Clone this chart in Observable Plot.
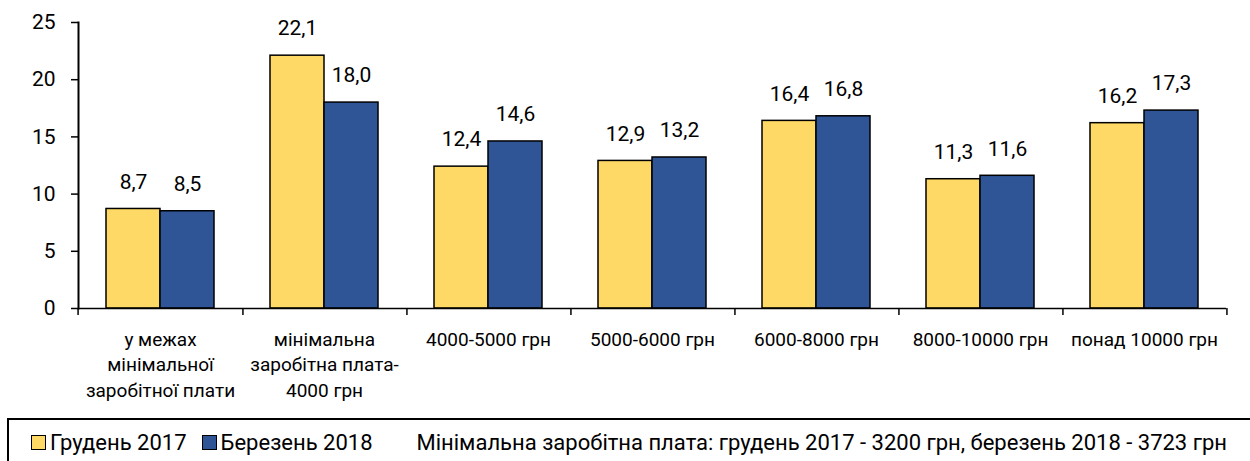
<!DOCTYPE html>
<html>
<head>
<meta charset="utf-8">
<script src="https://cdn.jsdelivr.net/npm/d3@7"></script>
<script src="https://cdn.jsdelivr.net/npm/@observablehq/plot@0.6"></script>
<style>
  html, body { margin: 0; padding: 0; background: #fff; overflow: hidden; width: 1250px; height: 461px; }
  #chart svg { display: block; }
  .legend {
    margin-top: 13px; margin-left: 7px; width: 1300px; height: 60px;
    border-top: 2px solid #000; border-left: 2px solid #000;
    font-family: Roboto, "Noto Sans", sans-serif; font-size: 22px; color: #000;
    display: flex; align-items: center; box-sizing: border-box; padding-left: 22px; padding-bottom: 14px;
  }
  .sw { display: inline-block; width: 13px; height: 13px; border: 1.5px solid #000; margin-right: 4px; }
  .item { display: inline-flex; align-items: center; }
</style>
</head>
<body>
<div id="chart"></div>
<div class="legend" id="legend"></div>
<script>
const categories = [
  "у межах\nмінімальної\nзаробітної плати",
  "мінімальна\nзаробітна плата-\n4000 грн",
  "4000-5000 грн",
  "5000-6000 грн",
  "6000-8000 грн",
  "8000-10000 грн",
  "понад 10000 грн"
];
const seriesNames = ["Грудень 2017", "Березень 2018"];
const dec2017 = [8.7, 22.1, 12.4, 12.9, 16.4, 11.3, 16.2];
const mar2018 = [8.5, 18.0, 14.6, 13.2, 16.8, 11.6, 17.3];
const yTicks = [0, 5, 10, 15, 20, 25];
const colors = ["#FFD966", "#2F5597"];
const note = "Мінімальна заробітна плата: грудень 2017 - 3200 грн, березень 2018 - 3723 грн";

const data = [];
categories.forEach((c, i) => {
  data.push({category: c, series: seriesNames[0], value: dec2017[i]});
  data.push({category: c, series: seriesNames[1], value: mar2018[i]});
});

const W = 1250, mL = 75, mR = 21;
const half = (W - mL - mR) / categories.length / 2;
const fmt = v => v.toFixed(1).replace(".", ",");

const chart = Plot.plot({
  width: W,
  height: 405,
  marginTop: 22,
  marginBottom: 97,
  marginLeft: mL,
  marginRight: mR,
  style: {fontFamily: "Roboto, 'Noto Sans', sans-serif", fontSize: "21px", color: "#000", background: "#fff"},
  fx: {domain: categories, padding: 0, axis: null},
  x: {domain: seriesNames, paddingInner: 0, paddingOuter: 0.5, axis: null},
  y: {domain: [0, 25], axis: null},
  color: {domain: seriesNames, range: colors},
  marks: [
    Plot.barY(data, {fx: "category", x: "series", y: "value", fill: "series", stroke: "#000", strokeWidth: 1.5}),
    Plot.text(data, {fx: "category", x: "series", y: "value", text: d => fmt(d.value), dy: -27, fontSize: 21, fill: "#000"}),
    Plot.ruleY([0], {stroke: "#000", strokeWidth: 1.5}),
    Plot.frame({anchor: "left", facetAnchor: "left", stroke: "#000", strokeWidth: 2}),
    Plot.axisY({ticks: yTicks, tickSize: 7, tickPadding: 16, fontSize: 21, stroke: "#000", strokeWidth: 1.5, label: null}),
    Plot.axisFx({anchor: "bottom", label: null, tickSize: 0, tickPadding: 19, fontSize: 19, lineHeight: 1.35, fill: "#000"}),
    Plot.axisFx({anchor: "bottom", label: null, tickSize: 7, tickFormat: () => "", dx: half, stroke: "#000", strokeWidth: 1.5}),
    Plot.axisFx({anchor: "bottom", label: null, ticks: [categories[0]], tickSize: 7, tickFormat: () => "", dx: -half, stroke: "#000", strokeWidth: 1.5})
  ]
});
document.getElementById("chart").appendChild(chart);

const legend = document.getElementById("legend");
const gaps = [15, 44];
seriesNames.forEach((s, i) => {
  const item = document.createElement("span");
  item.className = "item";
  item.style.marginRight = gaps[i] + "px";
  const sw = document.createElement("span");
  sw.className = "sw";
  sw.style.background = colors[i];
  item.appendChild(sw);
  item.appendChild(document.createTextNode(s));
  legend.appendChild(item);
});
const n = document.createElement("span");
n.className = "item";
n.textContent = note;
legend.appendChild(n);
</script>
</body>
</html>
